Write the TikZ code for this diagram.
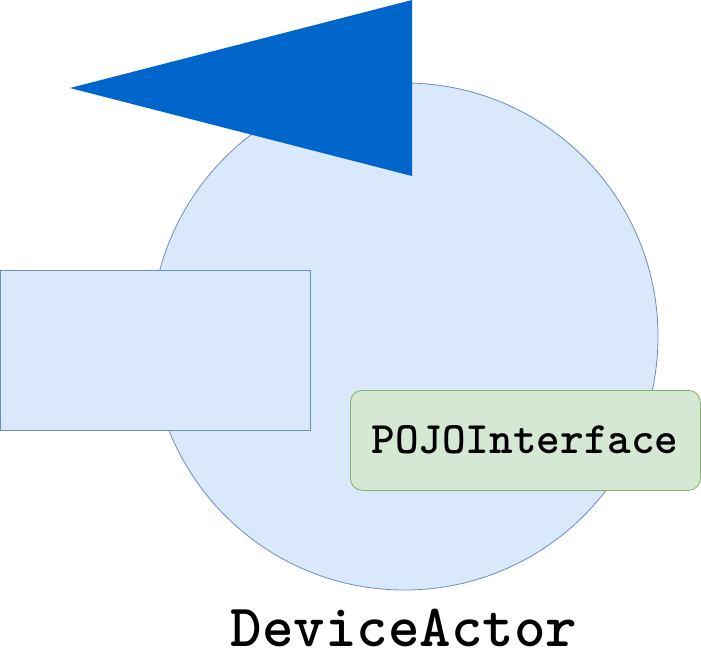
\documentclass[tikz,border=0pt]{standalone}
\usepackage{fontspec}
\definecolor{bluefill}{HTML}{DAE8FC}
\definecolor{bluestroke}{HTML}{6C8EBF}
\definecolor{darkblue}{HTML}{0066CC}
\definecolor{greenfill}{HTML}{D5E8D4}
\definecolor{greenstroke}{HTML}{82B366}
\begin{document}
\begin{tikzpicture}[x=1pt,y=-1pt,
  bluebox/.style={draw=bluestroke,fill=bluefill,line width=0.8pt},
  greenbox/.style={draw=greenstroke,fill=greenfill,line width=0.8pt,rounded corners=12pt},
  label/.style={font=\ttfamily\bfseries}]
\useasboundingbox (0,0) rectangle (701,662);
\fill[white] (0,0) rectangle (701,662);
\draw[bluebox] (404.5,336.5) circle [radius=253.5];
\coordinate (circ) at (404.5,336.5);
\fill[darkblue] (70,88) -- (412,0) -- (412,176) -- cycle;
\node[bluebox,minimum width=310pt,minimum height=160pt,inner sep=0pt,anchor=north west] (rect) at (0,270) {};
\node[greenbox,minimum width=350pt,minimum height=100pt,inner sep=0pt,anchor=north west] (pojo) at (350,390) {};
\node[font=\ttfamily\bfseries\fontsize{45}{45}\selectfont] (pojotext) at (525,440) {POJOInterface};
\node[font=\ttfamily\bfseries\fontsize{60}{60}\selectfont] (dev) at (404,628) {DeviceActor};
\end{tikzpicture}
\end{document}
